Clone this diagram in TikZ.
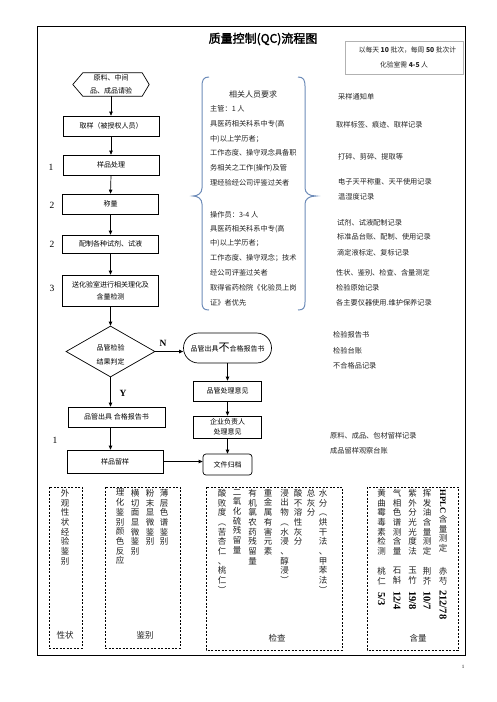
\documentclass[tikz,border=0pt]{standalone}
\usepackage{fontspec}
\setmainfont{Noto Sans CJK SC}
\newfontfamily\lat{Liberation Serif}
\newfontfamily\titlefont{Noto Sans CJK SC}[FakeBold=2]
\usetikzlibrary{arrows.meta,shapes.geometric}
\definecolor{bracec}{RGB}{110,140,185}
\definecolor{txtc}{RGB}{35,35,35}

\ExplSyntaxOn
\cs_new_protected:Npn \my_vst:n #1
  {
    \vbox_top:n
      {
        \baselineskip=9.7pt\relax
        \lineskiplimit=-\maxdimen\relax
        \lineskip=0pt\relax
        \tl_map_inline:nn {#1} { \hbox_to_wd:nn {10pt} { \hss ##1 \hss } }
      }
  }
\NewDocumentCommand \vst { m } { \my_vst:n {#1} }
\ExplSyntaxOff

\tikzset{
  fbox/.style={draw, line width=0.7pt, inner sep=0pt, align=center, font=\fontsize{7}{12}\selectfont},
  arr/.style={line width=0.7pt, -{Triangle[length=4pt,width=3.5pt]}},
  lab/.style={inner sep=0pt, font=\lat\fontsize{9.5}{10}\selectfont},
  yn/.style={inner sep=0pt, font=\lat\bfseries\fontsize{9.5}{10}\selectfont},
  vcol/.style={inner sep=0pt, anchor=north, font=\fontsize{8.5}{9.7}\selectfont, text=txtc},
  dbox/.style={draw, dash pattern=on 2pt off 1.5pt, line width=0.8pt},
  txt/.style={inner sep=0pt, anchor=west, font=\fontsize{7.2}{8}\selectfont, text=txtc},
  num/.style={inner sep=0pt, rotate=-90, anchor=west, font=\lat\bfseries\fontsize{10.5}{10.5}\selectfont},
  bracepath/.style={draw=bracec, line width=1pt}
}

\begin{document}
\begin{tikzpicture}[x=1pt,y=-1pt]
\useasboundingbox (0,0) rectangle (496,702);
\fill[white] (0,0) rectangle (496,702);

% frame
\draw[line width=1pt] (37,26) rectangle (465.5,655);

% title
\node[inner sep=0pt, font=\titlefont\fontsize{12}{12}\selectfont] (title) at (263,39) {质量控制(QC)流程图};

% note box
\node[draw=gray!60, line width=0.6pt, minimum width=118pt, minimum height=33pt, inner sep=0pt,
      align=center, font=\fontsize{6.8}{15}\selectfont, text=txtc] (note) at (404,57.5)
      {\hspace*{7pt}以每天 \textbf{10} 批次，每周 \textbf{50} 批次计\\化验室需 \textbf{4-5} 人};

% left flow
\node[inner sep=0pt, minimum width=76pt, minimum height=23pt, align=center,
      font=\fontsize{7}{13}\selectfont] (req) at (111,84.5) {原料、中间\\品、成品请验};
\draw[line width=0.7pt] (req.west) -- ([xshift=10pt]req.north west) -- ([xshift=-7pt]req.north east)
   -- (req.east) -- ([xshift=-7pt]req.south east) -- ([xshift=10pt]req.south west) -- cycle;

\node[fbox, minimum width=96pt, minimum height=20pt] (qy) at (111,126) {取样（被授权人员）};
\node[fbox, minimum width=96pt, minimum height=20pt] (yp) at (111,165) {样品处理};
\node[fbox, minimum width=96pt, minimum height=20pt] (cl) at (110.5,204) {称量};
\node[fbox, minimum width=96pt, minimum height=18pt] (pz) at (110.5,244) {配制各种试剂、试液};
\node[fbox, minimum width=96pt, minimum height=31pt] (sh) at (110.5,290.5) {送化验室进行相关理化及\\含量检测};
\node[diamond, draw, line width=0.7pt, minimum width=89pt, minimum height=51pt, inner sep=0pt] (dia) at (110.5,351.5) {};
\node[inner sep=0pt, align=center, font=\fontsize{7}{14}\selectfont] (diat) at (110.5,354.5) {品管检验\\结果判定};
\node[fbox, minimum width=97pt, minimum height=20pt] (hg) at (116.5,417) {品管出具\ 合格报告书};
\node[fbox, minimum width=96pt, minimum height=23pt] (ly) at (115,461.5) {样品留样};

\node[fbox, rounded corners=15pt, minimum width=88pt, minimum height=30pt] (bh) at (227.5,348)
   {品管出具{\fontsize{11}{11}\selectfont 不}合格报告书};
\node[fbox, minimum width=68pt, minimum height=20pt] (cy) at (227.5,391) {品管处理意见};
\node[fbox, minimum width=68pt, minimum height=22pt, font=\fontsize{7}{10.3}\selectfont] (qf) at (227.5,427) {企业负责人\\处理意见};
\node[fbox, rounded corners=3pt, minimum width=49pt, minimum height=21pt] (wj) at (227.5,464.5) {文件归档};

\draw[arr] (req.south) -- (qy.north);
\draw[arr] (qy.south) -- (yp.north);
\draw[arr] (yp.south) -- (cl.north);
\draw[arr] (cl.south) -- (pz.north);
\draw[arr] (pz.south) -- (sh.north);
\draw[arr] (sh.south) -- (dia.north);
\draw[arr] (dia.south) -- (dia.south |- hg.north);
\draw[arr] (dia.south |- hg.south) -- (dia.south |- ly.north);
\draw[arr] (dia.east) -- (dia.east -| bh.west);
\draw[arr] (bh.south) -- (cy.north);
\draw[arr] (cy.south) -- (qf.north);
\draw[arr] (qf.south) -- (wj.north);
\draw[arr] (ly.east) -- (ly.east -| wj.west);

\node[yn] (nlab) at (163,343) {N};
\node[yn] (ylab) at (123,393) {Y};

\node[lab] (l1) at (51,167) {1};
\node[lab] (l2) at (52,205) {2};
\node[lab] (l3) at (52,244) {2};
\node[lab] (l4) at (52,288) {3};
\node[lab] (l5) at (55,440) {1};

% braces
\draw[bracepath] (209,77) .. controls (203.5,77) and (202,80) .. (202,86) -- (202,188)
   .. controls (202,193) and (198,196) .. (193,196) .. controls (198,196) and (202,199) .. (202,204)
   -- (202,302) .. controls (202,308) and (203.5,310) .. (209,310);
\draw[bracepath] (298,77) .. controls (303.5,77) and (305,80) .. (305,86) -- (305,188)
   .. controls (305,193) and (309,196) .. (316,196) .. controls (309,196) and (305,199) .. (305,204)
   -- (305,302) .. controls (305,308) and (303.5,310) .. (298,310);

\node[inner sep=0pt, font=\fontsize{8}{9}\selectfont, text=txtc] (rq) at (253,94) {相关人员要求};
\foreach \yy/\tt in {109/{主管：1 人},124/{具医药相关科系中专(高},139/{中)以上学历者；},
  153/{工作态度、操守观念具备职},168/{务相关之工作(操作)及管},183/{理经验经公司评鉴过关者},
  215/{操作员：3-4 人},229/{具医药相关科系中专(高},243/{中)以上学历者；},
  258/{工作态度、操守观念；技术},273/{经公司评鉴过关者},288/{取得省药检院《化验员上岗},303/{证》者优先}}
  \node[txt] at (210,\yy) {\tt};

% right column
\foreach \xx/\yy/\tt in {338/97/{采样通知单},336/125/{取样标签、痕迹、取样记录},338/157/{打碎、剪碎、提取等},
  338/182/{电子天平称重、天平使用记录},338/197/{温湿度记录},337/223/{试剂、试液配制记录},
  337/237/{标准品台账、配制、使用记录},337/253/{滴定液标定、复标记录},336/273/{性状、鉴别、检查、含量测定},
  336/288/{检验原始记录},336/303/{各主要仪器使用.维护保养记录},333/335/{检验报告书},333/351/{检验台账},
  333/366/{不合格品记录},330/436/{原料、成品、包材留样记录},330/451/{成品留样观察台账}}
  \node[txt] at (\xx,\yy) {\tt};

% bottom dashed boxes
\draw[dbox] (49,487) rectangle (82,648);
\draw[dbox] (105,487) rectangle (180,648);
\draw[dbox] (206,487) rectangle (342,650);
\draw[dbox] (367,487) rectangle (458,650);

\node[vcol] at (65,489) {\vst{外观性状经验鉴别}};
\node[vcol] at (164,489) {\vst{薄层色谱鉴别}};
\node[vcol] at (150,489) {\vst{粉末显微鉴别}};
\node[vcol] at (135,489) {\vst{横切面显微鉴别}};
\node[vcol] at (120,489) {\vst{理化鉴别颜色反应}};

\node[vcol] at (323,489) {\vst{水分︵烘干法、甲苯法︶}};
\node[vcol] at (311,489) {\vst{总灰分}};
\node[vcol] at (298,489) {\vst{酸不溶性灰分}};
\node[vcol] at (284.5,489) {\vst{浸出物︵水浸、醇浸︶}};
\node[vcol] at (268,489) {\vst{重金属有害元素}};
\node[vcol] at (252.5,489) {\vst{有机氯农药残留量}};
\node[vcol] at (237,489) {\vst{二氧化硫残留量}};
\node[vcol] at (222,489) {\vst{酸败度︵苦杏仁、桃仁︶}};

% content column
\node[num, font=\lat\bfseries\fontsize{8.5}{8.5}\selectfont] at (443,489.5) {HPLC};
\node[vcol] at (443,515) {\vst{含量测定}};
\node[vcol] at (443,567) {\vst{赤芍}};
\node[num] at (443,590) {212/78};

\node[vcol] at (427,489) {\vst{挥发油含量测定}};
\node[vcol] at (427,567) {\vst{荆芥}};
\node[num] at (427,591) {10/7};

\node[vcol] at (412.5,489) {\vst{紫外分光光度法}};
\node[vcol] at (412.5,567) {\vst{玉竹}};
\node[num] at (412.5,591) {19/8};

\node[vcol] at (397,489) {\vst{气相色谱测含量}};
\node[vcol] at (397,567) {\vst{石斛}};
\node[num] at (397,591) {12/4};

\node[vcol] at (381.5,489) {\vst{黄曲霉毒素检测}};
\node[vcol] at (381.5,567) {\vst{桃仁}};
\node[num] at (381.5,592) {5/3};

% box labels
\node[inner sep=0pt, font=\fontsize{8.5}{9}\selectfont, text=txtc] at (65,635) {性状};
\node[inner sep=0pt, font=\fontsize{8.5}{9}\selectfont, text=txtc] at (145,635) {鉴别};
\node[inner sep=0pt, font=\fontsize{8.5}{9}\selectfont, text=txtc] at (277,638) {检查};
\node[inner sep=0pt, font=\fontsize{8.5}{9}\selectfont, text=txtc] at (418,638) {含量};

\node[inner sep=0pt, font=\lat\fontsize{5}{5}\selectfont] at (463,667) {1};
\end{tikzpicture}
\end{document}
